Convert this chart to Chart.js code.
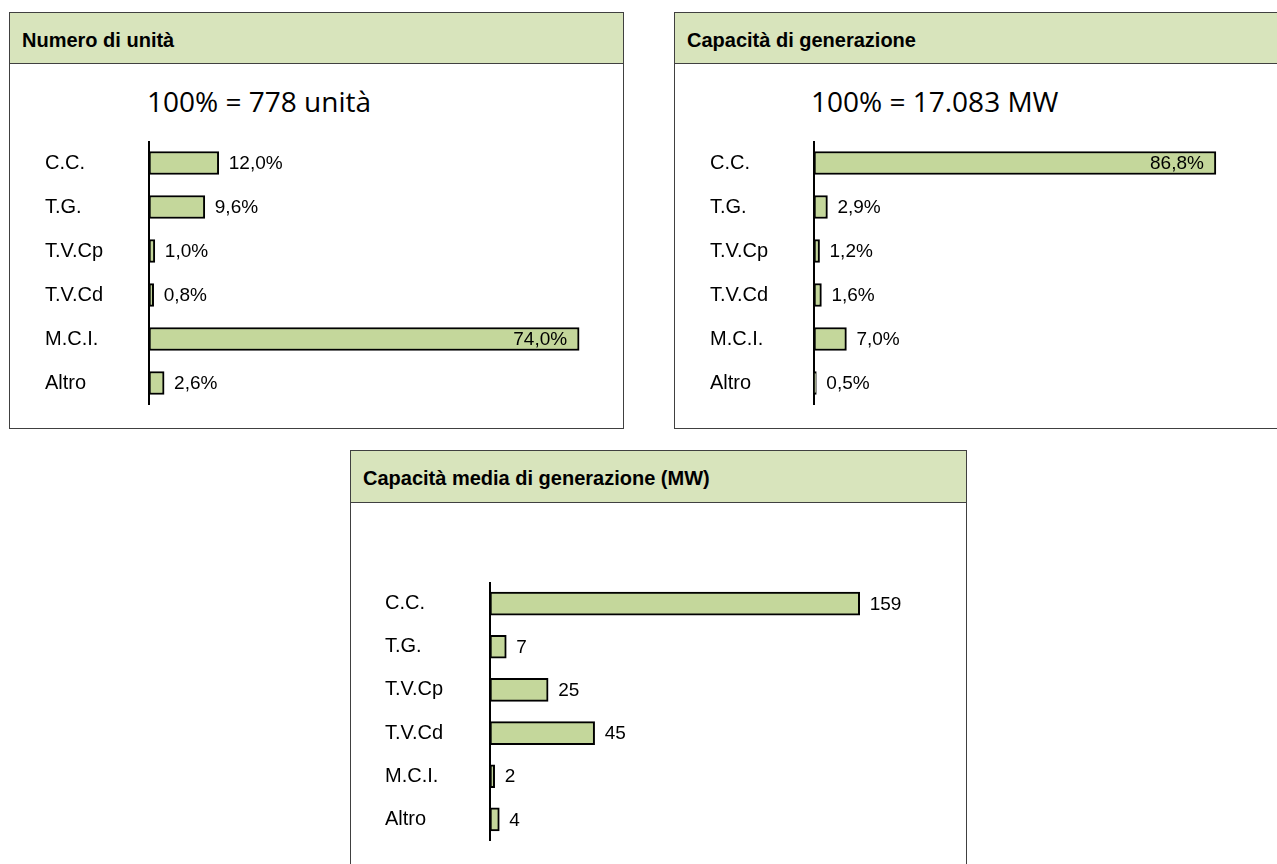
<!DOCTYPE html>
<html lang="it">
<head>
<meta charset="utf-8">
<title>Unità di generazione</title>
<script src="https://cdn.jsdelivr.net/npm/chart.js@4.4.1/dist/chart.umd.min.js"></script>
<style>
  html, body { margin: 0; padding: 0; background: #fff; overflow: hidden; }
  body { width: 1277px; height: 864px; position: relative; font-family: "Liberation Sans", Arial, sans-serif; }
  .panel { position: absolute; border: 1px solid #404040; background: #fff; box-sizing: border-box; }
  .panel-header { height: 50px; background: #d8e4bc; border-bottom: 1px solid #404040;
                  font-weight: bold; font-size: 20px; padding-left: 12px; line-height: 54px; }
  .total { position: absolute; font-family: "Open Sans", sans-serif; font-size: 28px; line-height: normal; color: #000; }
  canvas { position: absolute; }
</style>
</head>
<body>

<div class="panel" style="left:9px; top:12px; width:615px; height:417px;">
  <div class="panel-header">Numero di unità</div>
</div>
<div class="panel" style="left:674px; top:12px; width:640px; height:417px;">
  <div class="panel-header">Capacità di generazione</div>
</div>
<div class="panel" style="left:350px; top:450px; width:617px; height:450px;">
  <div class="panel-header" style="height:51px;">Capacità media di generazione (MW)</div>
</div>

<div class="total" style="left:147px; top:82px;">100% = 778 unità</div>
<div class="total" style="left:811px; top:82px;">100% = 17.083 MW</div>

<canvas id="unitsChart" width="569" height="264" style="left:45px; top:141px; width:569px; height:264px;"></canvas>
<canvas id="capacityChart" width="567" height="264" style="left:710px; top:141px; width:567px; height:264px;"></canvas>
<canvas id="averageChart" width="570" height="259" style="left:385px; top:582px; width:570px; height:259px;"></canvas>

<script>
// Tipologie di impianto
const categories = ['C.C.', 'T.G.', 'T.V.Cp', 'T.V.Cd', 'M.C.I.', 'Altro'];

// Quota sul numero di unità (%)
const unitShares = [12.0, 9.6, 1.0, 0.8, 74.0, 2.6];
// Quota sulla capacità di generazione (%)
const capacityShares = [86.8, 2.9, 1.2, 1.6, 7.0, 0.5];
// Capacità media per unità (MW)
const averageCapacity = [159, 7, 25, 45, 2, 4];

const barFill = '#c4d79b';

Chart.defaults.font.family = '"Liberation Sans", Arial, sans-serif';
Chart.defaults.color = '#000';

// Etichette dei valori: fuori dalla barra, dentro per la barra più lunga
const valueLabels = {
    id: 'valueLabels',
    afterDatasetsDraw(chart, args, opts) {
        const ctx = chart.ctx;
        const meta = chart.getDatasetMeta(0);
        const values = chart.data.datasets[0].data;
        const top = Math.max(...values);
        ctx.save();
        ctx.font = '19px "Liberation Sans", Arial, sans-serif';
        ctx.fillStyle = '#000';
        ctx.textBaseline = 'middle';
        meta.data.forEach((bar, i) => {
            let text = opts.decimals > 0
                ? values[i].toFixed(opts.decimals).replace('.', ',')
                : String(values[i]);
            text += opts.suffix;
            if (opts.insideMax && values[i] === top) {
                ctx.textAlign = 'right';
                ctx.fillText(text, bar.x - 12, bar.y + 1);
            } else {
                ctx.textAlign = 'left';
                ctx.fillText(text, bar.x + 10, bar.y + 1);
            }
        });
        ctx.restore();
    }
};

function buildChart(canvasId, values, xMax, axisWidth, labelOpts) {
    return new Chart(document.getElementById(canvasId), {
        type: 'bar',
        data: {
            labels: categories,
            datasets: [{
                data: values,
                backgroundColor: barFill,
                borderColor: '#000',
                borderWidth: 2,
                borderSkipped: false,
                barThickness: 23
            }]
        },
        options: {
            indexAxis: 'y',
            responsive: false,
            animation: false,
            layout: { padding: 0 },
            plugins: {
                legend: { display: false },
                tooltip: { enabled: false },
                valueLabels: labelOpts
            },
            scales: {
                x: { display: false, min: 0, max: xMax },
                y: {
                    grid: { display: false },
                    border: { display: true, color: '#000', width: 2 },
                    ticks: { crossAlign: 'far', color: '#000', font: { size: 20 } },
                    afterFit: (scale) => {
                        scale.width = axisWidth;
                        // the axis line runs the full height of the canvas
                        scale.paddingTop = 0;
                        scale.paddingBottom = 0;
                    }
                }
            }
        },
        plugins: [valueLabels]
    });
}

buildChart('unitsChart', unitShares, 80, 104, { decimals: 1, suffix: '%', insideMax: true });
buildChart('capacityChart', capacityShares, 100, 104, { decimals: 1, suffix: '%', insideMax: true });
buildChart('averageChart', averageCapacity, 200, 105, { decimals: 0, suffix: '', insideMax: false });
</script>
</body>
</html>
